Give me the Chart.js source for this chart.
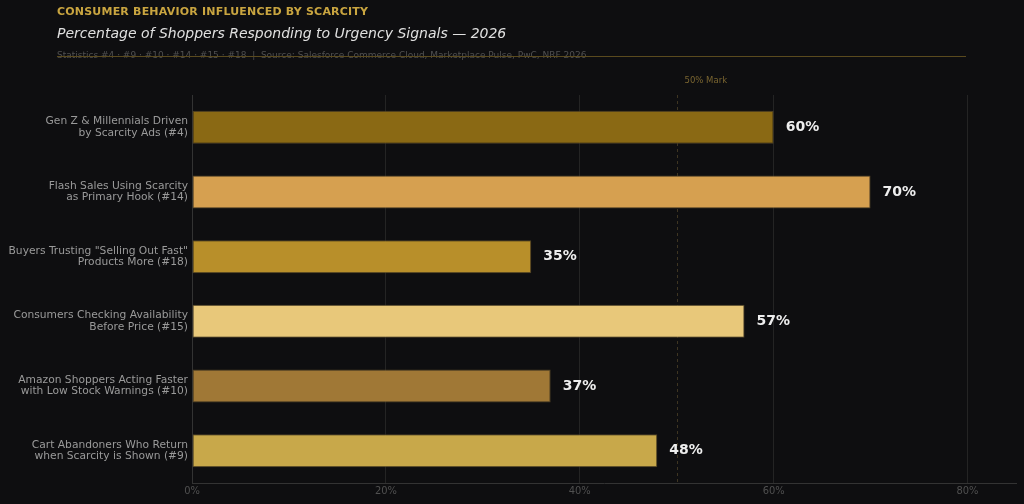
<!DOCTYPE html>
<html>
<head>
<meta charset="utf-8">
<script src="https://cdn.jsdelivr.net/npm/chart.js@4.4.1/dist/chart.umd.min.js"></script>
<style>
  html, body { margin: 0; padding: 0; background: #0e0e10; }
  body { width: 1024px; height: 504px; position: relative; overflow: hidden; font-family: "DejaVu Sans", sans-serif; }
  #wrap { position: absolute; left: 0; top: 0; width: 1024px; height: 504px; }
  .kicker { position: absolute; left: 57px; top: 5px; font-size: 11px; font-weight: bold; color: #c9a540; letter-spacing: 0.2px; }
  .title { position: absolute; left: 57px; top: 25px; font-size: 14px; font-style: italic; color: #e0e0e0; }
  .source { position: absolute; left: 57px; top: 50px; font-size: 9px; color: #505050; }
  .rule { position: absolute; left: 57px; top: 56px; width: 909px; height: 1px; background: #5a4a1e; }
</style>
</head>
<body>
<div id="wrap"><canvas id="chart" width="1024" height="504"></canvas></div>
<div class="kicker">CONSUMER BEHAVIOR INFLUENCED BY SCARCITY</div>
<div class="title">Percentage of Shoppers Responding to Urgency Signals — 2026</div>
<div class="source">Statistics #4 · #9 · #10 · #14 · #15 · #18 &nbsp;| &nbsp;Source: Salesforce Commerce Cloud, Marketplace Pulse, PwC, NRF 2026</div>
<div class="rule"></div>
<script>
// categories (two-line labels)
const categories = [
  ['Gen Z & Millennials Driven', 'by Scarcity Ads (#4)'],
  ['Flash Sales Using Scarcity', 'as Primary Hook (#14)'],
  ['Buyers Trusting "Selling Out Fast"', 'Products More (#18)'],
  ['Consumers Checking Availability', 'Before Price (#15)'],
  ['Amazon Shoppers Acting Faster', 'with Low Stock Warnings (#10)'],
  ['Cart Abandoners Who Return', 'when Scarcity is Shown (#9)']
];
const percentages = [60, 70, 35, 57, 37, 48];
const barColors = ['#8a6914', '#d6a050', '#b88f2a', '#e8c87a', '#a07836', '#c8a84a'];
const markValue = 50;
const markLabel = '50% Mark';

// 50% dashed marker behind the bars, value labels on top
const extras = {
  id: 'extras',
  beforeDatasetsDraw(chart) {
    const ctx = chart.ctx;
    const area = chart.chartArea;
    const mx = Math.round(chart.scales.x.getPixelForValue(markValue)) + 0.5;
    ctx.save();
    ctx.strokeStyle = '#3e3522';
    ctx.lineWidth = 1;
    ctx.setLineDash([3, 3]);
    ctx.beginPath();
    ctx.moveTo(mx, area.top);
    ctx.lineTo(mx, area.bottom);
    ctx.stroke();
    ctx.setLineDash([]);
    ctx.fillStyle = '#7a6530';
    ctx.font = '8.5px "DejaVu Sans"';
    ctx.textAlign = 'left';
    ctx.textBaseline = 'middle';
    ctx.fillText(markLabel, mx + 7, area.top - 14);
    ctx.restore();
  },
  afterDatasetsDraw(chart) {
    const ctx = chart.ctx;
    const meta = chart.getDatasetMeta(0);
    ctx.save();
    ctx.fillStyle = '#eeeeee';
    ctx.font = 'bold 14px "DejaVu Sans"';
    ctx.textAlign = 'left';
    ctx.textBaseline = 'middle';
    meta.data.forEach((bar, i) => {
      ctx.fillText(percentages[i] + '%', bar.x + 12, bar.y);
    });
    ctx.restore();
  }
};

new Chart(document.getElementById('chart'), {
  type: 'bar',
  data: {
    labels: categories,
    datasets: [{
      data: percentages,
      backgroundColor: barColors,
      borderColor: '#4e4126',
      borderWidth: 1,
      borderSkipped: false,
      barPercentage: 0.51,
      categoryPercentage: 1
    }]
  },
  options: {
    indexAxis: 'y',
    responsive: false,
    animation: false,
    layout: { padding: { top: 95, right: 8, left: 0, bottom: 0 } },
    plugins: { legend: { display: false }, tooltip: { enabled: false } },
    scales: {
      x: {
        min: 0,
        max: 85,
        afterBuildTicks(scale) {
          scale.ticks = scale.ticks.filter(t => t.value % 20 === 0);
        },
        afterFit(scale) { scale.height = 21; },
        ticks: {
          stepSize: 20,
          color: '#505050',
          font: { family: 'DejaVu Sans Condensed', size: 11 },
          padding: 2,
          callback: v => v + '%'
        },
        grid: { color: '#242424', lineWidth: 1, drawTicks: false },
        border: { color: '#333333' }
      },
      y: {
        afterFit(scale) { scale.width = 192; },
        ticks: {
          color: '#9a9a9a',
          font: { family: 'DejaVu Sans', size: 10.7, lineHeight: 1.05 },
          padding: 4
        },
        grid: { display: false, drawTicks: false },
        border: { color: '#333333' }
      }
    }
  },
  plugins: [extras]
});
</script>
</body>
</html>
